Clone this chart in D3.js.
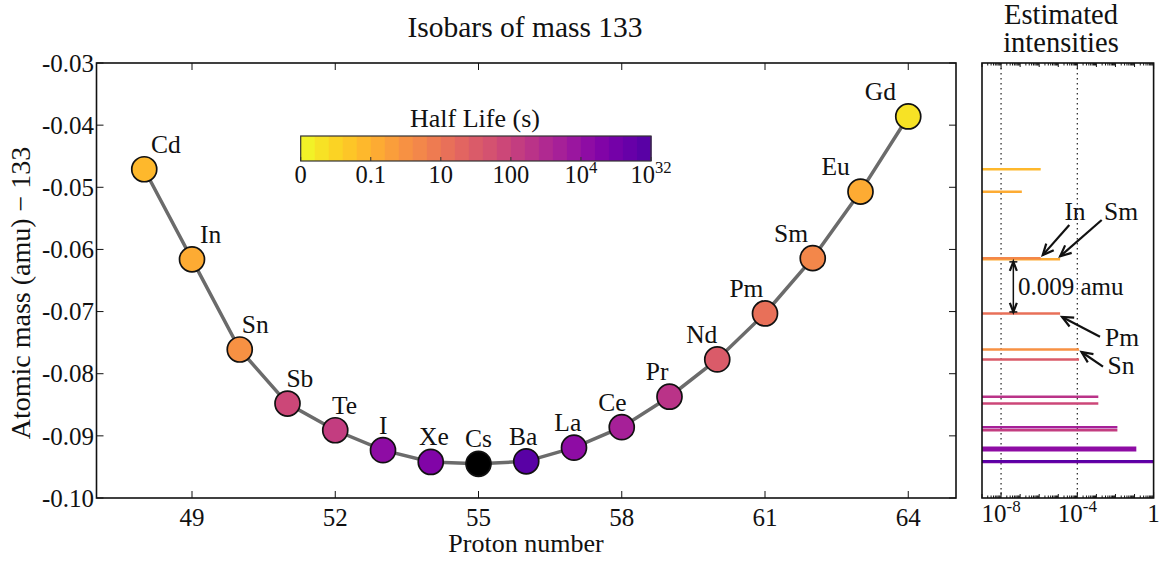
<!DOCTYPE html>
<html>
<head>
<meta charset="utf-8">
<script src="https://cdn.jsdelivr.net/npm/d3@7"></script>
<style>
  body { margin: 0; background: #fff; }
  svg { display: block; }
  svg text { font-family: "Liberation Serif", "DejaVu Serif", serif; fill: #111; }
</style>
</head>
<body>
<svg id="chart" width="1159" height="561" font-family="Liberation Serif, DejaVu Serif, serif"></svg>
<script>
// Isobars with A = 133
const elements = ["Cd","In","Sn","Sb","Te","I","Xe","Cs","Ba","La","Ce","Pr","Nd","Pm","Sm","Eu","Gd"];
const protonNumbers = [48,49,50,51,52,53,54,55,56,57,58,59,60,61,62,63,64];
// atomic mass minus 133 (amu)
const massExcess = [-0.0471,-0.0616,-0.0761,-0.0848,-0.0891,-0.0923,-0.0942,-0.0945,-0.0941,
                    -0.0919,-0.0886,-0.0837,-0.0777,-0.0703,-0.0614,-0.0507,-0.0386];
// step on the 25-step half-life colour bar (null = stable)
const halfLifeStep = [4,5,7,14,15,20,21,null,24,20,18,16,12,10,8,5,1];
// estimated relative intensity (null = not shown)
const intensity = [1.2e-6,1.25e-5,1.23e-4,1.26e-3,1.26e-2,0.124,1,null,1,0.124,1.26e-2,1.26e-3,1.23e-4,1.25e-5,1.2e-6,1.23e-7,null];

const xTicks = [49,52,55,58,61,64];
const yTicks = [-0.10,-0.09,-0.08,-0.07,-0.06,-0.05,-0.04,-0.03];
const halfLifeTickLabels = [["0"],["0.1"],["10"],["100"],["10","4"],["10","32"]];
const intensityTicks = [1e-8,1e-4,1];
const intensityTickLabels = [["10","-8"],["10","-4"],["1"]];

const svg = d3.select("#chart");
const nSteps = 25;
const FONT = "Liberation Serif, DejaVu Serif, serif";

// scales
const x = d3.scaleLinear().domain([47,65]).range([96.5,956]);
const y = d3.scaleLinear().domain([-0.10,-0.03]).range([498,63]);
const xi = d3.scaleLog().domain([1e-9,1]).range([982,1153.6]);
const stepColor = d3.scaleSequential(t => d3.interpolatePlasma(1 - 0.86 * t)).domain([0, nSteps]);
const colorOf = i => halfLifeStep[i] === null ? "#000" : stepColor(halfLifeStep[i] + 0.5);

const data = elements.map((el, i) => ({el, z: protonNumbers[i], m: massExcess[i], c: colorOf(i), inten: intensity[i]}));

function txt(g, px, py, size, anchor) {
  return g.append("text").attr("x", px).attr("y", py).attr("font-size", size)
    .attr("text-anchor", anchor || "middle").attr("font-family", FONT).attr("fill", "#111");
}
function supText(sel, parts, size) {
  sel.append("tspan").text(parts[0]);
  if (parts.length > 1) {
    sel.append("tspan").attr("dy", -size * 0.42).attr("font-size", size * 0.68).text(parts[1]);
  }
}

// ---------- main panel ----------
const main = svg.append("g");

const tickLen = 7;
xTicks.forEach(t => {
  main.append("line").attr("x1", x(t)).attr("x2", x(t)).attr("y1", 498).attr("y2", 498 - tickLen).attr("stroke", "#111");
  main.append("line").attr("x1", x(t)).attr("x2", x(t)).attr("y1", 63).attr("y2", 63 + tickLen).attr("stroke", "#111");
  txt(main, x(t), 526, 25).text(t);
});
yTicks.forEach(t => {
  main.append("line").attr("x1", 96.5).attr("x2", 96.5 + tickLen).attr("y1", y(t)).attr("y2", y(t)).attr("stroke", "#111");
  main.append("line").attr("x1", 956).attr("x2", 956 - tickLen).attr("y1", y(t)).attr("y2", y(t)).attr("stroke", "#111");
  txt(main, 94, y(t), 25, "end").attr("dy", "0.35em").text(t.toFixed(2));
});

// connecting curve
main.append("path")
  .datum(data)
  .attr("fill", "none").attr("stroke", "#6b6b6b").attr("stroke-width", 3.5)
  .attr("d", d3.line().x(d => x(d.z)).y(d => y(d.m)));

// isotope markers
main.selectAll("circle.iso").data(data).join("circle")
  .attr("class", "iso")
  .attr("cx", d => x(d.z)).attr("cy", d => y(d.m)).attr("r", 12.5)
  .attr("fill", d => d.c).attr("stroke", "#111").attr("stroke-width", 1.7);

// element labels, leaning away from the slope of the curve
const labelNudge = {I: -6};
data.forEach(d => {
  txt(main, x(d.z) - 3.1 * (d.z - 55) + (labelNudge[d.el] || 0), y(d.m) - 16.5, 25.5).text(d.el);
});

// frame
main.append("rect").attr("x", 96.5).attr("y", 63).attr("width", 956 - 96.5).attr("height", 498 - 63)
  .attr("fill", "none").attr("stroke", "#111").attr("stroke-width", 1.6);

// titles
txt(svg, 525, 37, 29.5).text("Isobars of mass 133");
txt(svg, 526, 552, 26).text("Proton number");
txt(svg, 0, 0, 28).attr("transform", "translate(30,293) rotate(-90)").text("Atomic mass (amu) \u2212 133");

// ---------- half-life colour bar ----------
const cb = svg.append("g");
const cbx = d3.scaleLinear().domain([0, nSteps]).range([300.7, 651]);
const cbTop = 136, cbBot = 161;
d3.range(nSteps).forEach(k => {
  cb.append("rect").attr("x", cbx(k)).attr("y", cbTop).attr("width", cbx(k + 1) - cbx(k) + 0.6).attr("height", cbBot - cbTop)
    .attr("fill", stepColor(k + 0.5));
});
cb.append("rect").attr("x", cbx(0)).attr("y", cbTop).attr("width", cbx(nSteps) - cbx(0)).attr("height", cbBot - cbTop)
  .attr("fill", "none").attr("stroke", "#333").attr("stroke-width", 1.2);
halfLifeTickLabels.forEach((lab, j) => {
  const px = cbx(j * nSteps / (halfLifeTickLabels.length - 1));
  cb.append("line").attr("x1", px).attr("x2", px).attr("y1", cbBot).attr("y2", cbBot - 4).attr("stroke", "#333");
  supText(txt(cb, px, 183, 24.5), lab, 24.5);
});
txt(cb, 475, 127, 26).text("Half Life (s)");

// ---------- intensity panel ----------
const side = svg.append("g");
const sx0 = 982, sx1 = 1153.6;

intensityTicks.slice(0, 2).forEach(t => {
  side.append("line").attr("x1", xi(t)).attr("x2", xi(t)).attr("y1", 63).attr("y2", 498)
    .attr("stroke", "#333").attr("stroke-width", 1.3).attr("stroke-dasharray", "1.5,3.5");
});

for (let e = -9; e <= 0; e++) {
  for (let m = 1; m < 10; m++) {
    const v = m * Math.pow(10, e);
    if (v > 1) break;
    const major = m === 1 && intensityTicks.some(t => Math.abs(Math.log10(t) - e) < 1e-9);
    const len = major ? 6 : (m === 1 ? 4 : 2.5);
    side.append("line").attr("x1", xi(v)).attr("x2", xi(v)).attr("y1", 498).attr("y2", 498 - len).attr("stroke", "#111");
    side.append("line").attr("x1", xi(v)).attr("x2", xi(v)).attr("y1", 63).attr("y2", 63 + len).attr("stroke", "#111");
  }
}
intensityTicks.forEach((t, j) => {
  supText(txt(side, xi(t), 522, 25), intensityTickLabels[j], 25);
});

side.selectAll("line.bar").data(data.filter(d => d.inten !== null)).join("line")
  .attr("class", "bar")
  .attr("x1", sx0).attr("x2", d => xi(d.inten))
  .attr("y1", d => y(d.m)).attr("y2", d => y(d.m))
  .attr("stroke", d => d.c).attr("stroke-width", 2.5);

side.append("rect").attr("x", sx0).attr("y", 63).attr("width", sx1 - sx0).attr("height", 498 - 63)
  .attr("fill", "none").attr("stroke", "#111").attr("stroke-width", 1.6);

const st = txt(side, 0, 0, 28.5);
st.append("tspan").attr("x", 1061).attr("y", 24).text("Estimated");
st.append("tspan").attr("x", 1061).attr("y", 52).text("intensities");

// annotations
function arrowHead(g, x0, y0, x1, y1, len, half) {
  const a = Math.atan2(y1 - y0, x1 - x0);
  const p = (s, r) => [x1 - r * Math.cos(a) + s * half * Math.sin(a), y1 - r * Math.sin(a) - s * half * Math.cos(a)];
  const l = p(1, len), r = p(-1, len);
  g.append("path").attr("d", `M${l[0]},${l[1]}L${x1},${y1}L${r[0]},${r[1]}`)
    .attr("fill", "none").attr("stroke", "#111").attr("stroke-width", 2.2);
}
function arrow(g, x0, y0, x1, y1) {
  g.append("line").attr("x1", x0).attr("y1", y0).attr("x2", x1).attr("y2", y1).attr("stroke", "#111").attr("stroke-width", 2.2);
  arrowHead(g, x0, y0, x1, y1, 11, 5);
}
const notes = [
  {text: "In", tip: [1.2e-6, -0.0614], dx: 2, dy: -3, from: [1069.3, 225], tx: 1075, ty: 220},
  {text: "Sm", tip: [1.25e-5, -0.0616], dx: 0, dy: -3, from: [1101.7, 220], tx: 1121, ty: 220},
  {text: "Pm", tip: [1.25e-5, -0.0703], dx: 2, dy: 3.5, from: [1100, 336.7], tx: 1122, ty: 346},
  {text: "Sn", tip: [1.23e-4, -0.0761], dx: 2.5, dy: 2.5, from: [1103, 366.7], tx: 1121, ty: 374}
];
notes.forEach(n => {
  arrow(side, n.from[0], n.from[1], xi(n.tip[0]) + n.dx, y(n.tip[1]) + n.dy);
  txt(side, n.tx, n.ty, 25.5).text(n.text);
});

// mass gap between the In/Sm pair and Pm
const gx = xi(4.4e-8), gy0 = y(massExcess[1]) + 2.5, gy1 = y(massExcess[13]) - 1.5;
side.append("line").attr("x1", gx).attr("x2", gx).attr("y1", gy0).attr("y2", gy1).attr("stroke", "#111").attr("stroke-width", 1.5);
[gy0, gy1].forEach(v => side.append("line").attr("x1", gx - 4).attr("x2", gx + 4).attr("y1", v).attr("y2", v).attr("stroke", "#111").attr("stroke-width", 1.5));
arrowHead(side, gx, gy1, gx, gy0, 9, 3.5);
arrowHead(side, gx, gy0, gx, gy1, 9, 3.5);
txt(side, 1018, 295, 25, "start").text(`${(massExcess[1] - massExcess[13]).toFixed(3)} amu`);
</script>
</body>
</html>
